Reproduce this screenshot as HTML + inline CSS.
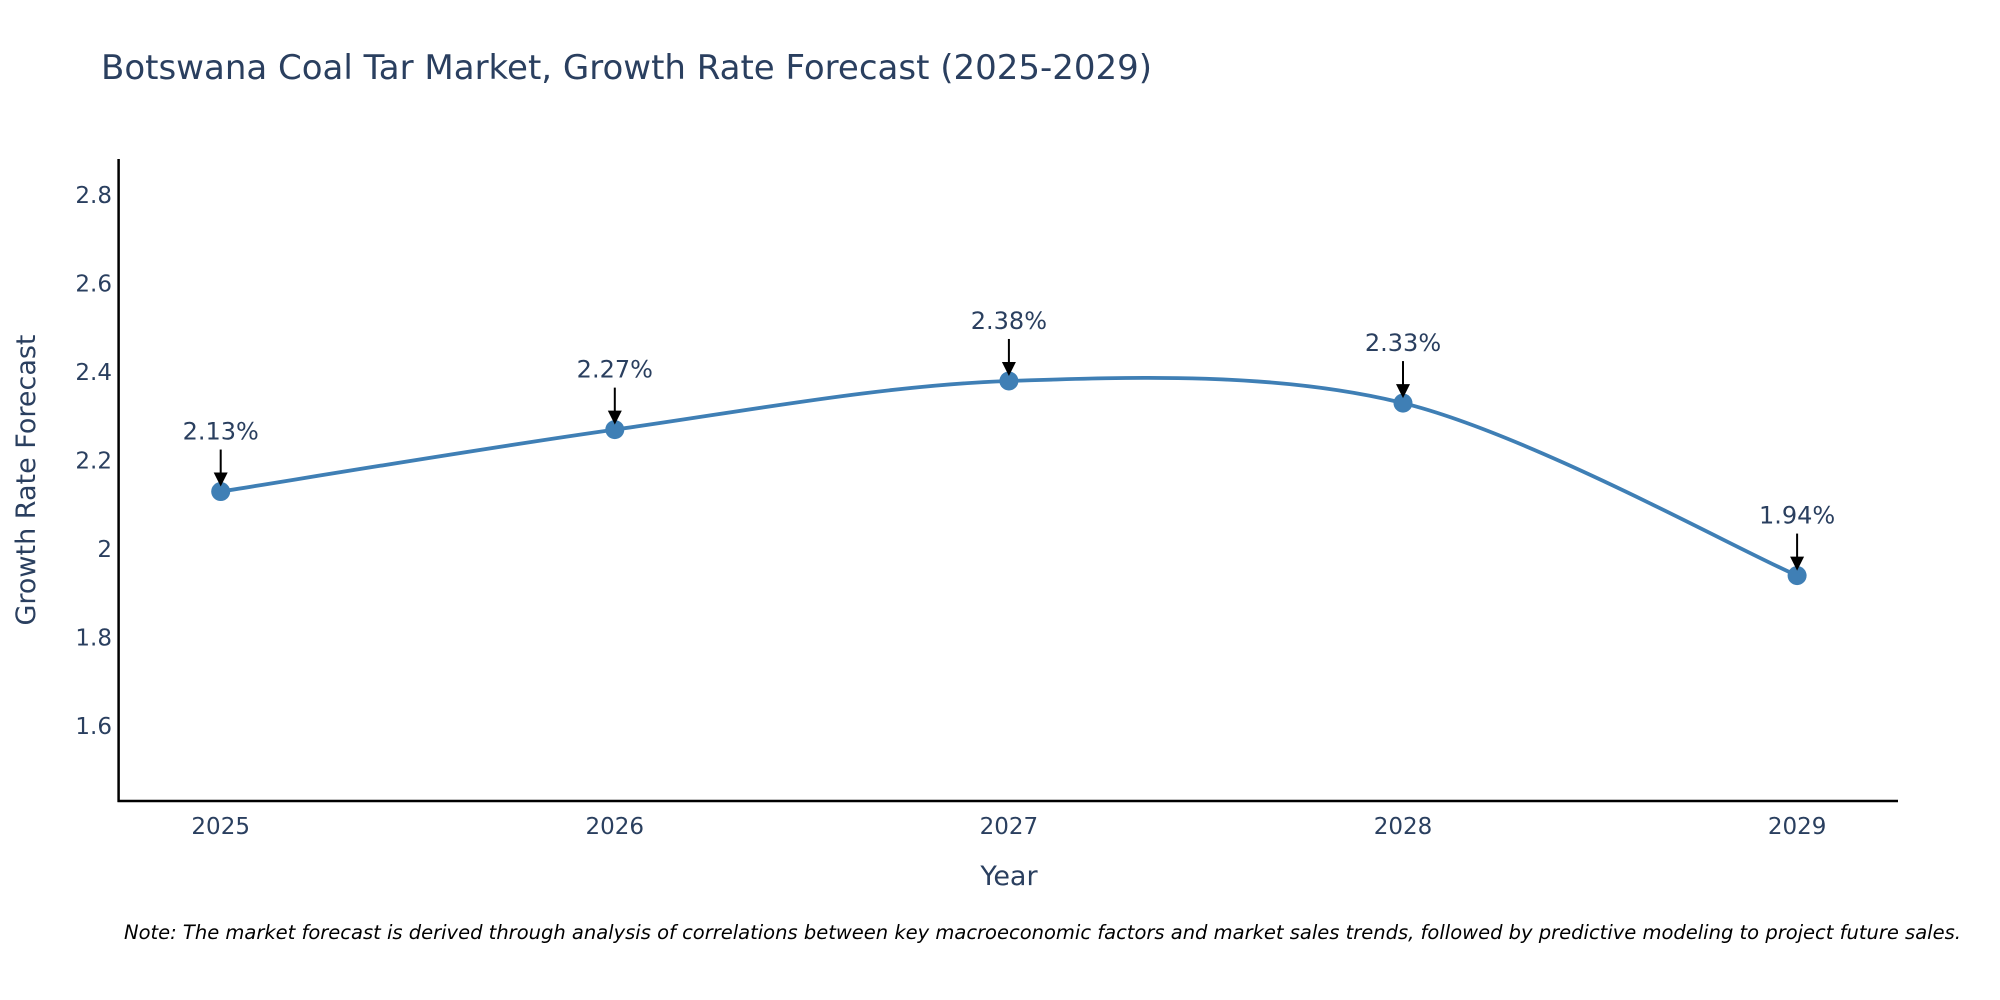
<!DOCTYPE html>
<html><head><meta charset="utf-8"><style>
html,body{margin:0;padding:0;background:#fff;}
svg{display:block;font-family:"DejaVu Sans","Liberation Sans",sans-serif;}
</style></head><body>
<svg id="chart" width="2000" height="1000" viewBox="0 0 2000 1000">
<text x="101" y="79" font-size="34" fill="#2a3f5f">Botswana Coal Tar Market, Growth Rate Forecast (2025-2029)</text>
<g id="yticks"></g>
<g id="xticks"></g>
<line x1="118.6" y1="159" x2="118.6" y2="802" stroke="#000" stroke-width="2.5"/>
<line x1="117.5" y1="801" x2="1898" y2="801" stroke="#000" stroke-width="2.5"/>
<path id="line" fill="none" stroke="#3f7fb5" stroke-width="3.8"/>
<g id="points"></g>
<g id="annots"></g>
<text x="0" y="0" transform="translate(35,480) rotate(-90)" text-anchor="middle" font-size="27" fill="#2a3f5f">Growth Rate Forecast</text>
<text x="1009" y="885" text-anchor="middle" font-size="27" fill="#2a3f5f">Year</text>
<text x="124" y="939" font-size="19.5" font-style="italic" fill="#000">Note: The market forecast is derived through analysis of correlations between key macroeconomic factors and market sales trends, followed by predictive modeling to project future sales.</text>
</svg>
<script>
const years = [2025, 2026, 2027, 2028, 2029];
const values = [2.13, 2.27, 2.38, 2.33, 1.94];
const labels = ["2.13%", "2.27%", "2.38%", "2.33%", "1.94%"];
const yTickValues = [1.6, 1.8, 2, 2.2, 2.4, 2.6, 2.8];
const yTickLabels = ["1.6", "1.8", "2", "2.2", "2.4", "2.6", "2.8"];

const NS = "http://www.w3.org/2000/svg";
function xScale(y){ return 220.7 + (y - 2025) * 394.1; }
function yScale(v){ return 195.2 + (2.8 - v) * 442.3; }
function mk(tag, attrs, parent){ const e=document.createElementNS(NS,tag); for(const k in attrs) e.setAttribute(k,attrs[k]); parent.appendChild(e); return e; }

const yt=document.getElementById('yticks');
yTickValues.forEach((v,i)=>{
  const t=mk('text',{x:112,y:yScale(v)+8,'text-anchor':'end','font-size':'23',fill:'#2a3f5f'},yt);
  
  
  t.textContent=yTickLabels[i];
});
const xt=document.getElementById('xticks');
years.forEach(y=>{
  const t=mk('text',{x:xScale(y),y:834,'text-anchor':'middle','font-size':'23',fill:'#2a3f5f'},xt);
  
  
  t.textContent=String(y);
});

const pts=years.map((y,i)=>[xScale(y),yScale(values[i])]);
let d='M'+pts[0][0]+','+pts[0][1];
const s=0.16;
for(let i=0;i<pts.length-1;i++){
  const p0=pts[Math.max(i-1,0)],p1=pts[i],p2=pts[i+1],p3=pts[Math.min(i+2,pts.length-1)];
  const c1=[p1[0]+(p2[0]-p0[0])*s,p1[1]+(p2[1]-p0[1])*s];
  const c2=[p2[0]-(p3[0]-p1[0])*s,p2[1]-(p3[1]-p1[1])*s];
  d+=' C'+c1[0]+','+c1[1]+' '+c2[0]+','+c2[1]+' '+p2[0]+','+p2[1];
}
document.getElementById('line').setAttribute('d',d);

const pg=document.getElementById('points'), ag=document.getElementById('annots');
pts.forEach((p,i)=>{
  const c=mk('circle',{cx:p[0],cy:p[1],r:9.5,fill:'#3f7fb5'},pg);
  
  
  const l=mk('line',{x1:p[0],y1:p[1]-42,x2:p[0],y2:p[1]-16,stroke:'#000','stroke-width':'2'},ag);
  
  
  const a=mk('path',{d:'M'+(p[0]-7)+','+(p[1]-19)+' L'+(p[0]+7)+','+(p[1]-19)+' L'+p[0]+','+(p[1]-5)+' Z',fill:'#000'},ag);
  
  
  const t=mk('text',{x:p[0],y:p[1]-52,'text-anchor':'middle','font-size':'24',fill:'#2a3f5f'},ag);
  
  
  t.textContent=labels[i];
});
</script>
</body></html>
